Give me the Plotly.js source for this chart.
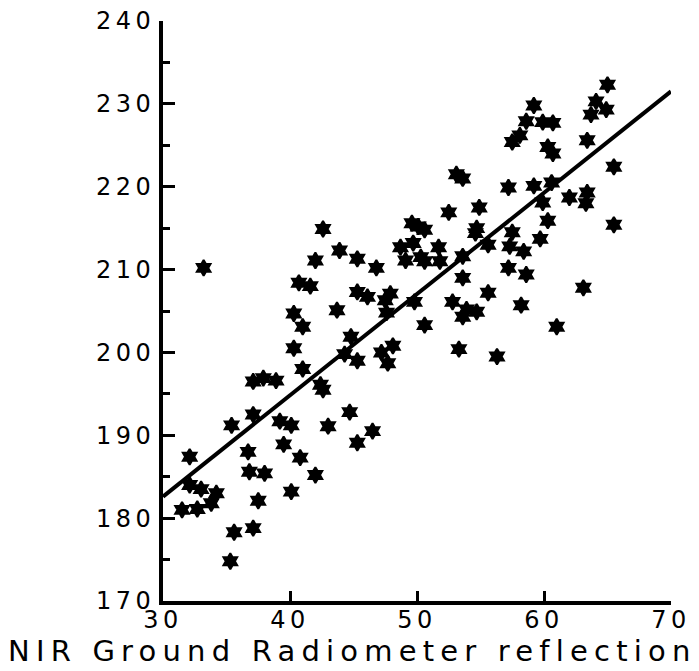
<!DOCTYPE html>
<html>
<head>
<meta charset="utf-8">
<script src="https://cdn.plot.ly/plotly-3.0.1.min.js"></script>
<style>
html,body{margin:0;padding:0;background:#fff;}
#chart{width:699px;height:671px;}
.xtick text, .ytick text{letter-spacing:4.5px;}
.annotation-text{letter-spacing:6.2px;}
</style>
</head>
<body>
<div id="chart"></div>
<script>
// Observed data (NIR ground radiometer reflection vs. response)
const nirX = [40.3,41.0,43.7,40.3,41.0,44.8,44.3,45.3,47.2,47.7,48.1,47.6,37.1,37.9,38.9,42.4,42.6,37.1,35.4,39.2,
  40.1,43.0,44.7,32.1,36.7,39.5,40.8,45.3,46.5,36.8,38.0,42.0,32.1,33.0,34.2,33.8,31.5,32.7,37.5,40.1,
  35.6,37.1,35.3,33.2,53.1,53.6,54.9,52.5,42.6,49.6,50.1,50.6,54.7,54.6,43.9,42.0,45.3,46.8,48.7,49.7,
  51.7,55.6,49.1,50.3,50.6,51.8,53.6,40.7,41.6,53.6,45.3,46.1,47.9,47.5,49.8,52.8,53.9,54.7,53.6,55.6,
  50.6,53.3,56.3,65.0,64.1,64.9,63.7,59.2,58.6,59.9,60.7,58.1,57.5,60.3,60.7,63.4,65.5,57.2,59.2,60.6,
  62.0,63.4,63.3,59.9,60.3,59.7,57.5,57.3,58.4,57.2,58.6,58.2,63.1,61.0,65.5];
const respY = [204.7,203.1,205.1,200.5,198.0,201.9,199.8,199.0,200.0,198.7,200.8,204.8,196.5,196.9,196.6,196.1,195.5,192.5,191.2,191.7,
  191.2,191.1,192.8,187.4,188.0,188.9,187.3,189.1,190.5,185.6,185.4,185.2,184.0,183.5,183.0,181.8,181.0,181.1,182.1,183.2,
  178.3,178.8,174.8,210.2,221.5,221.0,217.5,216.9,214.9,215.6,215.2,214.8,215.0,214.4,212.3,211.1,211.3,210.2,212.7,213.2,
  212.7,213.0,211.1,211.5,211.0,211.0,211.6,208.4,208.0,209.0,207.3,206.7,207.1,206.3,206.1,206.1,205.2,204.9,204.3,207.2,
  203.3,200.4,199.5,232.3,230.3,229.3,228.7,229.8,227.9,227.8,227.7,226.2,225.4,224.8,224.0,225.6,222.4,219.9,220.1,220.5,
  218.7,219.3,218.0,218.1,215.9,213.7,214.5,212.8,212.2,210.2,209.4,205.7,207.8,203.1,215.4];
// Fitted regression line end points
const fitX = [30, 70];
const fitY = [182.6, 231.5];
// Axis ticks
const xTicks = [30, 40, 50, 60, 70];
const yTicks = [170, 180, 190, 200, 210, 220, 230, 240];
const xTitle = 'NIR Ground Radiometer reflection';

const FONT = 'DejaVu Sans, Verdana, sans-serif';

const traces = [
  {x: nirX, y: respY, type: 'scatter', mode: 'markers',
   marker: {symbol: 'hexagram', size: 12, color: '#000', line: {width: 2, color: '#000'}},
   hoverinfo: 'x+y', showlegend: false, cliponaxis: false},
  {x: fitX, y: fitY, type: 'scatter', mode: 'lines',
   line: {color: '#000', width: 4}, showlegend: false}
];

const layout = {
  width: 699, height: 671,
  margin: {l: 163, r: 28, t: 21, b: 70, pad: 0},
  paper_bgcolor: '#fff', plot_bgcolor: '#fff',
  font: {family: FONT, color: '#000'},
  showlegend: false,
  xaxis: {
    range: [30, 70], tickvals: xTicks, ticktext: xTicks.map(String),
    showgrid: false, zeroline: false,
    showline: true, linecolor: '#000', linewidth: 4,
    ticks: 'inside', ticklen: 10, tickwidth: 3, tickcolor: '#000',
    tickfont: {family: FONT, size: 24, color: '#000'},
    ticklabelstandoff: -6
  },
  yaxis: {
    range: [170, 240], tickvals: yTicks, ticktext: yTicks.map(String),
    showgrid: false, zeroline: false,
    showline: true, linecolor: '#000', linewidth: 4,
    ticks: 'inside', ticklen: 12, tickwidth: 3, tickcolor: '#000',
    minor: {dtick: 5, ticks: 'inside', ticklen: 7, tickwidth: 3, tickcolor: '#000', showgrid: false},
    tickfont: {family: FONT, size: 24, color: '#000'},
    ticklabelstandoff: -1
  },
  annotations: [{
    text: xTitle, xref: 'paper', yref: 'paper',
    x: (352 - 163) / 508, y: -(670 - 601) / 580, xanchor: 'center', yanchor: 'bottom',
    showarrow: false, font: {family: FONT, size: 29, color: '#000'}
  }]
};

Plotly.newPlot('chart', traces, layout, {staticPlot: true, displayModeBar: false});
</script>
</body>
</html>
